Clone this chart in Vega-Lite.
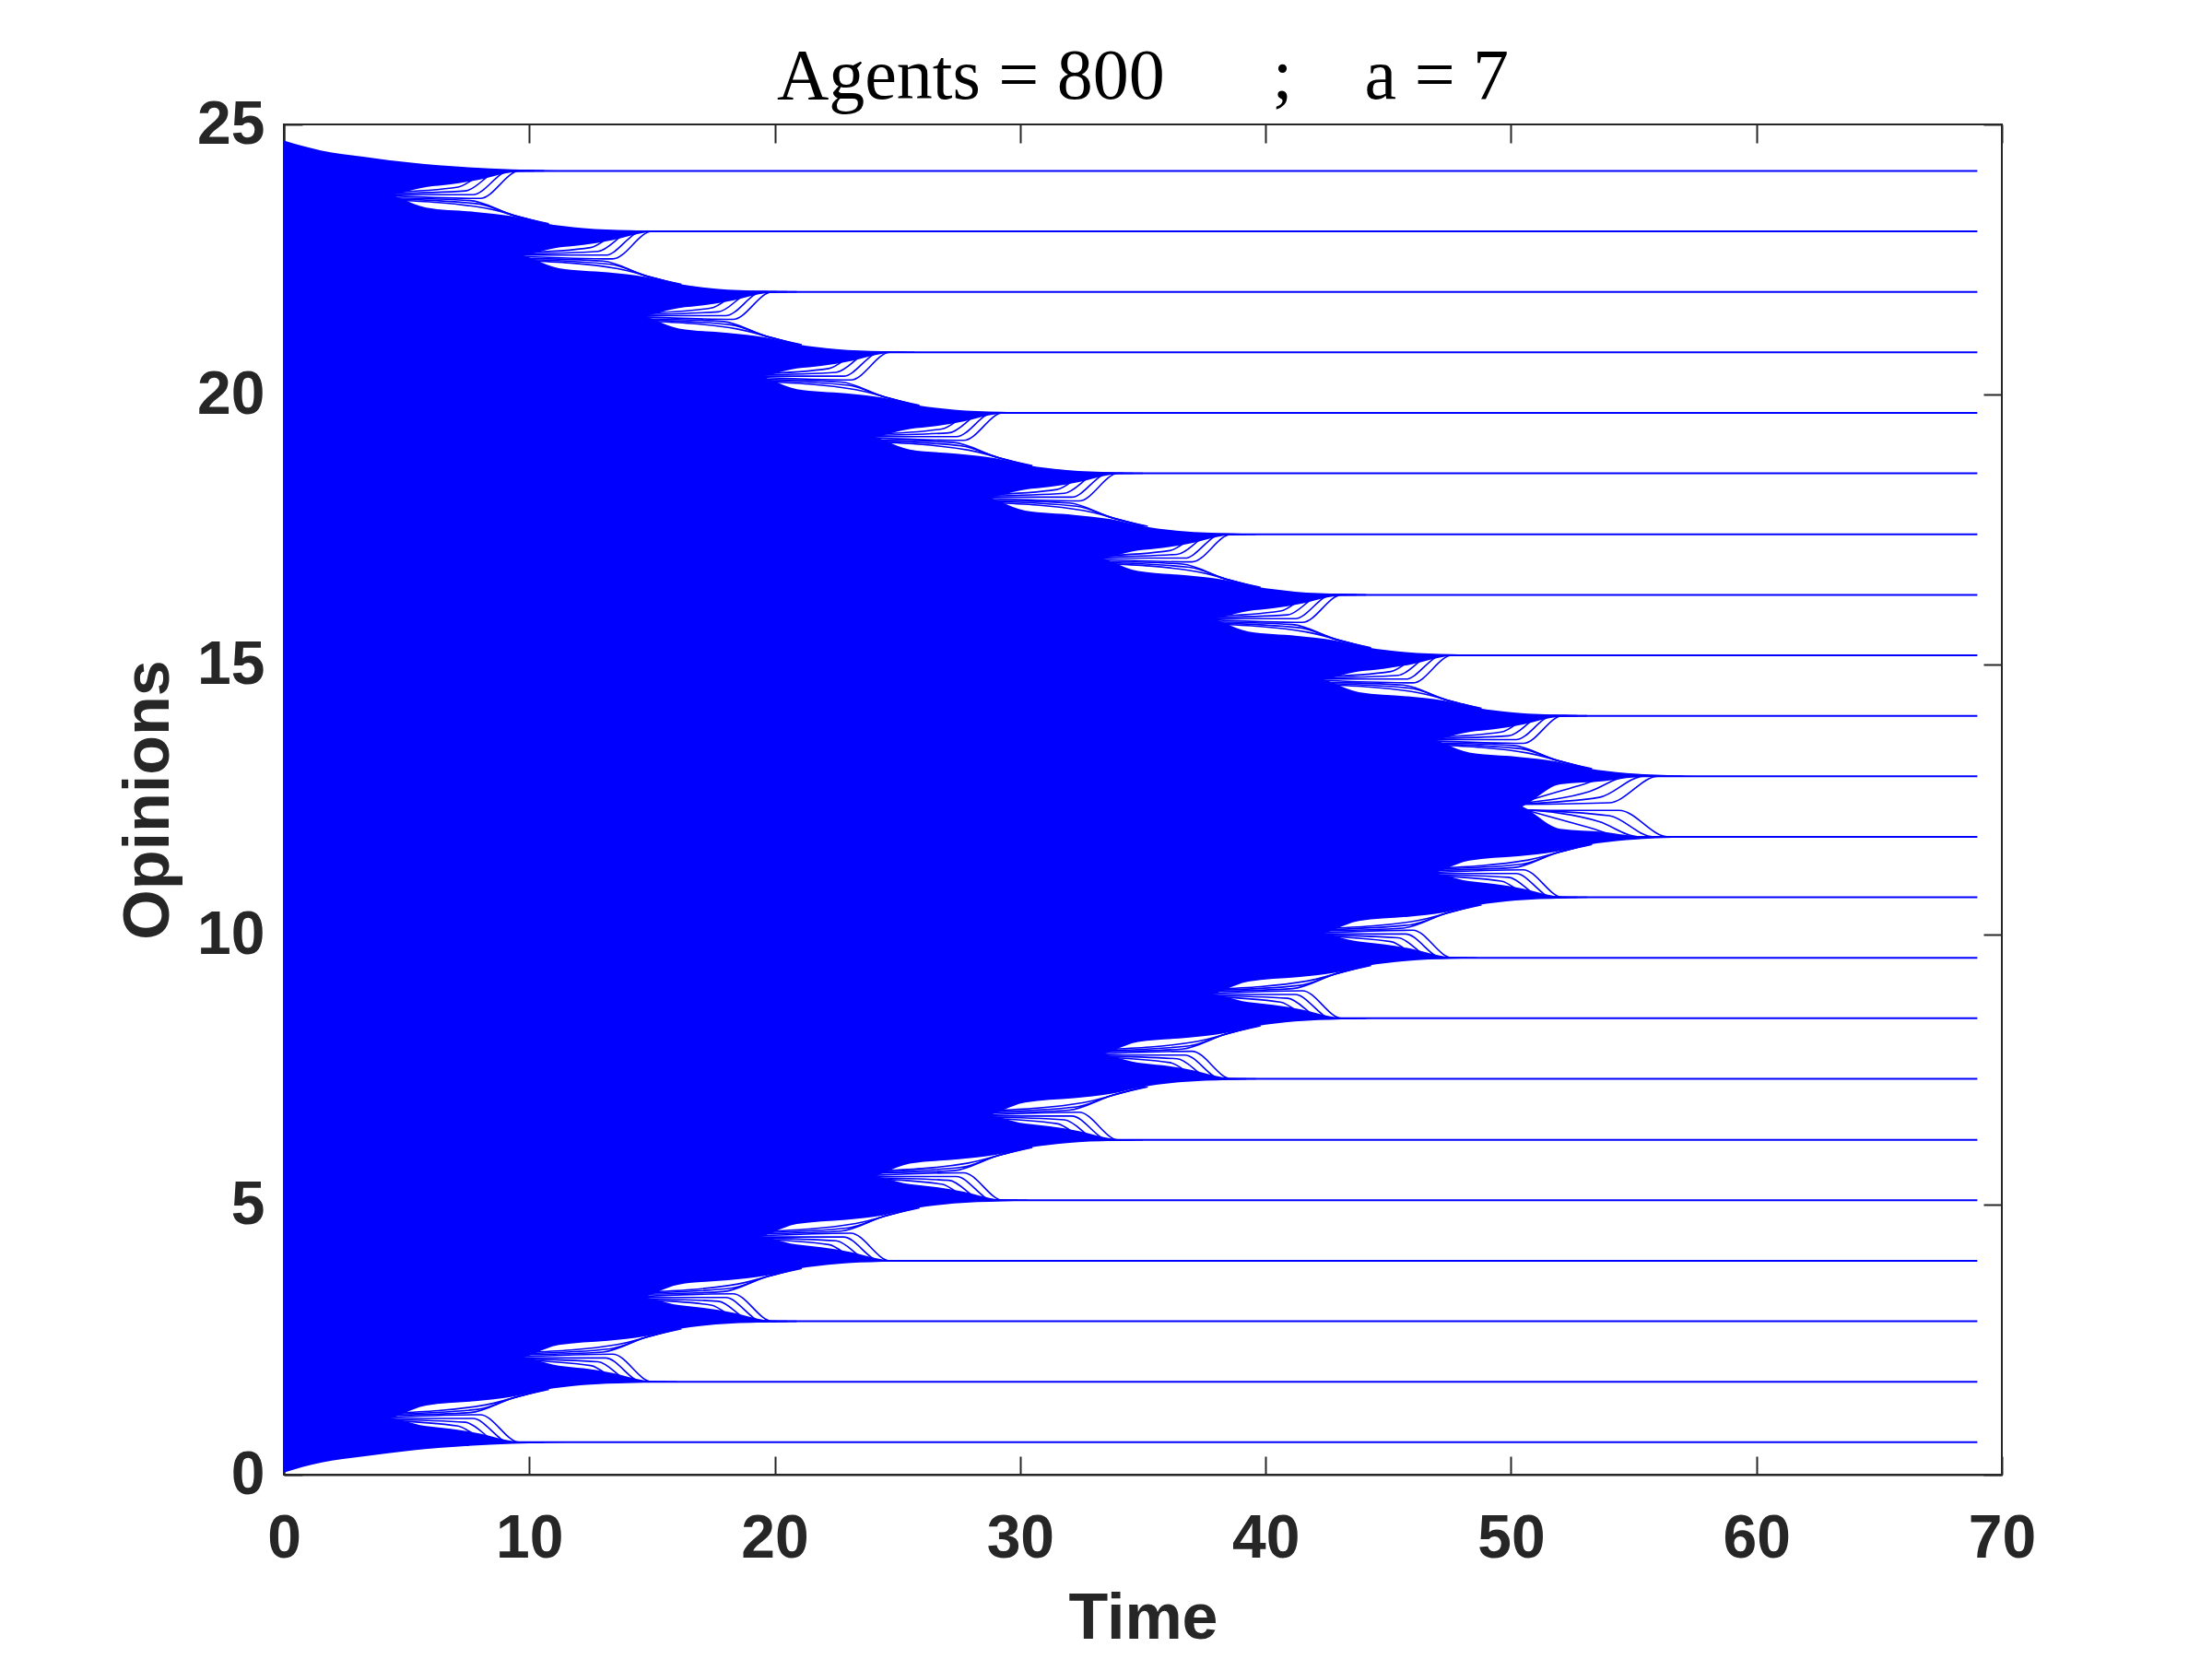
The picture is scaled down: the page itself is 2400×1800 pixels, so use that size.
{
"$schema": "https://vega.github.io/schema/vega-lite/v6.json",
"width": 1864, "height": 1465,
"autosize": {"type": "none"},
"padding": {"left": 308, "top": 135, "right": 228, "bottom": 200},
"background": "white",
"title": {"text": "Agents = 800\u2003\u2002;\u2003a = 7", "font": "Liberation Serif", "fontSize": 78, "fontWeight": "normal", "color": "black", "anchor": "middle", "offset": -21},
"config": {
  "view": {"stroke": "#262626", "strokeWidth": 2},
  "axis": {"grid": false, "domainColor": "#262626", "domainWidth": 2, "tickColor": "#262626", "tickWidth": 2, "tickSize": -20, "labelFlush": false,
    "labelFont": "Liberation Sans", "labelFontWeight": "bold", "labelFontSize": 66, "labelColor": "#262626",
    "titleFont": "Liberation Sans", "titleFontWeight": "bold", "titleFontSize": 70, "titleColor": "#262626"}
},
"datasets": {
"tongue": [
{"g":"1u","t":0,"y":24.70,"y2":24.14},{"g":"1u","t":1.5,"y":24.52,"y2":24.14},{"g":"1u","t":3.3,"y":24.40,"y2":24.14},{"g":"1u","t":5.2,"y":24.29,"y2":24.14},{"g":"1u","t":7.4,"y":24.21,"y2":24.14},{"g":"1u","t":9.3,"y":24.17,"y2":24.14},{"g":"1u","t":12,"y":24.14,"y2":24.14},
{"g":"1l","t":0,"y":24.14,"y2":23.66},{"g":"1l","t":3.8,"y":24.14,"y2":23.66},{"g":"1l","t":5.8,"y":24.14,"y2":23.84},{"g":"1l","t":6.8,"y":24.14,"y2":23.89},{"g":"1l","t":8.0,"y":24.14,"y2":23.98},{"g":"1l","t":9.0,"y":24.14,"y2":24.09},{"g":"1l","t":9.6,"y":24.14,"y2":24.14},
{"g":"2u","t":0,"y":23.74,"y2":23.02},{"g":"2u","t":3.8,"y":23.74,"y2":23.02},{"g":"2u","t":5.8,"y":23.46,"y2":23.02},{"g":"2u","t":7.8,"y":23.38,"y2":23.02},{"g":"2u","t":9.3,"y":23.30,"y2":23.02},{"g":"2u","t":10.6,"y":23.17,"y2":23.02},{"g":"2u","t":12.2,"y":23.08,"y2":23.02},{"g":"2u","t":14.1,"y":23.04,"y2":23.02},{"g":"2u","t":15.8,"y":23.02,"y2":23.02},
{"g":"2l","t":0,"y":23.02,"y2":22.54},{"g":"2l","t":9.2,"y":23.02,"y2":22.54},{"g":"2l","t":11.2,"y":23.02,"y2":22.72},{"g":"2l","t":12.2,"y":23.02,"y2":22.77},{"g":"2l","t":13.4,"y":23.02,"y2":22.86},{"g":"2l","t":14.4,"y":23.02,"y2":22.97},{"g":"2l","t":15.0,"y":23.02,"y2":23.02},
{"g":"3u","t":0,"y":22.62,"y2":21.90},{"g":"3u","t":9.2,"y":22.62,"y2":21.90},{"g":"3u","t":11.2,"y":22.34,"y2":21.90},{"g":"3u","t":13.2,"y":22.26,"y2":21.90},{"g":"3u","t":14.7,"y":22.18,"y2":21.90},{"g":"3u","t":16.0,"y":22.05,"y2":21.90},{"g":"3u","t":17.6,"y":21.96,"y2":21.90},{"g":"3u","t":19.5,"y":21.92,"y2":21.90},{"g":"3u","t":21.2,"y":21.90,"y2":21.90},
{"g":"3l","t":0,"y":21.90,"y2":21.42},{"g":"3l","t":14.1,"y":21.90,"y2":21.42},{"g":"3l","t":16.1,"y":21.90,"y2":21.60},{"g":"3l","t":17.1,"y":21.90,"y2":21.65},{"g":"3l","t":18.3,"y":21.90,"y2":21.74},{"g":"3l","t":19.3,"y":21.90,"y2":21.85},{"g":"3l","t":19.9,"y":21.90,"y2":21.90},
{"g":"4u","t":0,"y":21.50,"y2":20.78},{"g":"4u","t":14.1,"y":21.50,"y2":20.78},{"g":"4u","t":16.1,"y":21.22,"y2":20.78},{"g":"4u","t":18.1,"y":21.14,"y2":20.78},{"g":"4u","t":19.6,"y":21.06,"y2":20.78},{"g":"4u","t":20.9,"y":20.93,"y2":20.78},{"g":"4u","t":22.5,"y":20.84,"y2":20.78},{"g":"4u","t":24.4,"y":20.80,"y2":20.78},{"g":"4u","t":26.1,"y":20.78,"y2":20.78},
{"g":"4l","t":0,"y":20.78,"y2":20.30},{"g":"4l","t":18.9,"y":20.78,"y2":20.30},{"g":"4l","t":20.9,"y":20.78,"y2":20.48},{"g":"4l","t":21.9,"y":20.78,"y2":20.53},{"g":"4l","t":23.1,"y":20.78,"y2":20.62},{"g":"4l","t":24.1,"y":20.78,"y2":20.73},{"g":"4l","t":24.7,"y":20.78,"y2":20.78},
{"g":"5u","t":0,"y":20.38,"y2":19.66},{"g":"5u","t":18.9,"y":20.38,"y2":19.66},{"g":"5u","t":20.9,"y":20.10,"y2":19.66},{"g":"5u","t":22.9,"y":20.02,"y2":19.66},{"g":"5u","t":24.4,"y":19.94,"y2":19.66},{"g":"5u","t":25.7,"y":19.81,"y2":19.66},{"g":"5u","t":27.3,"y":19.72,"y2":19.66},{"g":"5u","t":29.2,"y":19.68,"y2":19.66},{"g":"5u","t":30.9,"y":19.66,"y2":19.66},
{"g":"5l","t":0,"y":19.66,"y2":19.18},{"g":"5l","t":23.5,"y":19.66,"y2":19.18},{"g":"5l","t":25.5,"y":19.66,"y2":19.36},{"g":"5l","t":26.5,"y":19.66,"y2":19.41},{"g":"5l","t":27.7,"y":19.66,"y2":19.50},{"g":"5l","t":28.7,"y":19.66,"y2":19.61},{"g":"5l","t":29.3,"y":19.66,"y2":19.66},
{"g":"6u","t":0,"y":19.26,"y2":18.54},{"g":"6u","t":23.5,"y":19.26,"y2":18.54},{"g":"6u","t":25.5,"y":18.98,"y2":18.54},{"g":"6u","t":27.5,"y":18.90,"y2":18.54},{"g":"6u","t":29.0,"y":18.82,"y2":18.54},{"g":"6u","t":30.3,"y":18.69,"y2":18.54},{"g":"6u","t":31.9,"y":18.60,"y2":18.54},{"g":"6u","t":33.8,"y":18.56,"y2":18.54},{"g":"6u","t":35.5,"y":18.54,"y2":18.54},
{"g":"6l","t":0,"y":18.54,"y2":18.06},{"g":"6l","t":28.2,"y":18.54,"y2":18.06},{"g":"6l","t":30.2,"y":18.54,"y2":18.24},{"g":"6l","t":31.2,"y":18.54,"y2":18.29},{"g":"6l","t":32.4,"y":18.54,"y2":18.38},{"g":"6l","t":33.4,"y":18.54,"y2":18.49},{"g":"6l","t":34.0,"y":18.54,"y2":18.54},
{"g":"7u","t":0,"y":18.13,"y2":17.41},{"g":"7u","t":28.2,"y":18.13,"y2":17.41},{"g":"7u","t":30.2,"y":17.85,"y2":17.41},{"g":"7u","t":32.2,"y":17.77,"y2":17.41},{"g":"7u","t":33.7,"y":17.69,"y2":17.41},{"g":"7u","t":35.0,"y":17.56,"y2":17.41},{"g":"7u","t":36.6,"y":17.47,"y2":17.41},{"g":"7u","t":38.5,"y":17.43,"y2":17.41},{"g":"7u","t":40.2,"y":17.41,"y2":17.41},
{"g":"7l","t":0,"y":17.41,"y2":16.93},{"g":"7l","t":32.8,"y":17.41,"y2":16.93},{"g":"7l","t":34.8,"y":17.41,"y2":17.11},{"g":"7l","t":35.8,"y":17.41,"y2":17.16},{"g":"7l","t":37.0,"y":17.41,"y2":17.25},{"g":"7l","t":38.0,"y":17.41,"y2":17.36},{"g":"7l","t":38.6,"y":17.41,"y2":17.41},
{"g":"8u","t":0,"y":17.01,"y2":16.29},{"g":"8u","t":32.8,"y":17.01,"y2":16.29},{"g":"8u","t":34.8,"y":16.73,"y2":16.29},{"g":"8u","t":36.8,"y":16.65,"y2":16.29},{"g":"8u","t":38.3,"y":16.57,"y2":16.29},{"g":"8u","t":39.6,"y":16.44,"y2":16.29},{"g":"8u","t":41.2,"y":16.35,"y2":16.29},{"g":"8u","t":43.1,"y":16.31,"y2":16.29},{"g":"8u","t":44.8,"y":16.29,"y2":16.29},
{"g":"8l","t":0,"y":16.29,"y2":15.81},{"g":"8l","t":37.3,"y":16.29,"y2":15.81},{"g":"8l","t":39.3,"y":16.29,"y2":15.99},{"g":"8l","t":40.3,"y":16.29,"y2":16.04},{"g":"8l","t":41.5,"y":16.29,"y2":16.13},{"g":"8l","t":42.5,"y":16.29,"y2":16.24},{"g":"8l","t":43.1,"y":16.29,"y2":16.29},
{"g":"9u","t":0,"y":15.89,"y2":15.17},{"g":"9u","t":37.3,"y":15.89,"y2":15.17},{"g":"9u","t":39.3,"y":15.61,"y2":15.17},{"g":"9u","t":41.3,"y":15.53,"y2":15.17},{"g":"9u","t":42.8,"y":15.45,"y2":15.17},{"g":"9u","t":44.1,"y":15.32,"y2":15.17},{"g":"9u","t":45.7,"y":15.23,"y2":15.17},{"g":"9u","t":47.6,"y":15.19,"y2":15.17},{"g":"9u","t":49.3,"y":15.17,"y2":15.17},
{"g":"9l","t":0,"y":15.17,"y2":14.69},{"g":"9l","t":41.8,"y":15.17,"y2":14.69},{"g":"9l","t":43.8,"y":15.17,"y2":14.87},{"g":"9l","t":44.8,"y":15.17,"y2":14.92},{"g":"9l","t":46.0,"y":15.17,"y2":15.01},{"g":"9l","t":47.0,"y":15.17,"y2":15.12},{"g":"9l","t":47.6,"y":15.17,"y2":15.17},
{"g":"10u","t":0,"y":14.77,"y2":14.05},{"g":"10u","t":41.8,"y":14.77,"y2":14.05},{"g":"10u","t":43.8,"y":14.49,"y2":14.05},{"g":"10u","t":45.8,"y":14.41,"y2":14.05},{"g":"10u","t":47.3,"y":14.33,"y2":14.05},{"g":"10u","t":48.6,"y":14.20,"y2":14.05},{"g":"10u","t":50.2,"y":14.11,"y2":14.05},{"g":"10u","t":52.1,"y":14.07,"y2":14.05},{"g":"10u","t":53.8,"y":14.05,"y2":14.05},
{"g":"10l","t":0,"y":14.05,"y2":13.57},{"g":"10l","t":46.3,"y":14.05,"y2":13.57},{"g":"10l","t":48.3,"y":14.05,"y2":13.75},{"g":"10l","t":49.3,"y":14.05,"y2":13.80},{"g":"10l","t":50.5,"y":14.05,"y2":13.89},{"g":"10l","t":51.5,"y":14.05,"y2":14.00},{"g":"10l","t":52.1,"y":14.05,"y2":14.05},
{"g":"11u","t":0,"y":13.65,"y2":12.93},{"g":"11u","t":46.3,"y":13.65,"y2":12.93},{"g":"11u","t":48.3,"y":13.37,"y2":12.93},{"g":"11u","t":50.3,"y":13.29,"y2":12.93},{"g":"11u","t":51.8,"y":13.21,"y2":12.93},{"g":"11u","t":53.1,"y":13.08,"y2":12.93},{"g":"11u","t":54.7,"y":12.99,"y2":12.93},{"g":"11u","t":56.6,"y":12.95,"y2":12.93},{"g":"11u","t":58.3,"y":12.93,"y2":12.93},
{"g":"11l","t":0,"y":12.93,"y2":12.33},{"g":"11l","t":50.1,"y":12.93,"y2":12.33},{"g":"11l","t":52.0,"y":12.93,"y2":12.78},{"g":"11l","t":53.8,"y":12.93,"y2":12.84},{"g":"11l","t":55.0,"y":12.93,"y2":12.91},{"g":"11l","t":55.8,"y":12.93,"y2":12.93},
{"g":"12u","t":0,"y":12.41,"y2":11.81},{"g":"12u","t":50.1,"y":12.41,"y2":11.81},{"g":"12u","t":52.0,"y":11.96,"y2":11.81},{"g":"12u","t":53.8,"y":11.90,"y2":11.81},{"g":"12u","t":55.0,"y":11.83,"y2":11.81},{"g":"12u","t":55.8,"y":11.81,"y2":11.81},
{"g":"12l","t":0,"y":11.81,"y2":11.09},{"g":"12l","t":46.3,"y":11.81,"y2":11.09},{"g":"12l","t":48.3,"y":11.81,"y2":11.37},{"g":"12l","t":50.3,"y":11.81,"y2":11.45},{"g":"12l","t":51.8,"y":11.81,"y2":11.53},{"g":"12l","t":53.1,"y":11.81,"y2":11.66},{"g":"12l","t":54.7,"y":11.81,"y2":11.75},{"g":"12l","t":56.6,"y":11.81,"y2":11.79},{"g":"12l","t":58.3,"y":11.81,"y2":11.81},
{"g":"13u","t":0,"y":11.17,"y2":10.69},{"g":"13u","t":46.3,"y":11.17,"y2":10.69},{"g":"13u","t":48.3,"y":10.99,"y2":10.69},{"g":"13u","t":49.3,"y":10.94,"y2":10.69},{"g":"13u","t":50.5,"y":10.85,"y2":10.69},{"g":"13u","t":51.5,"y":10.74,"y2":10.69},{"g":"13u","t":52.1,"y":10.69,"y2":10.69},
{"g":"13l","t":0,"y":10.69,"y2":9.97},{"g":"13l","t":41.8,"y":10.69,"y2":9.97},{"g":"13l","t":43.8,"y":10.69,"y2":10.25},{"g":"13l","t":45.8,"y":10.69,"y2":10.33},{"g":"13l","t":47.3,"y":10.69,"y2":10.41},{"g":"13l","t":48.6,"y":10.69,"y2":10.54},{"g":"13l","t":50.2,"y":10.69,"y2":10.63},{"g":"13l","t":52.1,"y":10.69,"y2":10.67},{"g":"13l","t":53.8,"y":10.69,"y2":10.69},
{"g":"14u","t":0,"y":10.05,"y2":9.57},{"g":"14u","t":41.8,"y":10.05,"y2":9.57},{"g":"14u","t":43.8,"y":9.87,"y2":9.57},{"g":"14u","t":44.8,"y":9.82,"y2":9.57},{"g":"14u","t":46.0,"y":9.73,"y2":9.57},{"g":"14u","t":47.0,"y":9.62,"y2":9.57},{"g":"14u","t":47.6,"y":9.57,"y2":9.57},
{"g":"14l","t":0,"y":9.57,"y2":8.85},{"g":"14l","t":37.3,"y":9.57,"y2":8.85},{"g":"14l","t":39.3,"y":9.57,"y2":9.13},{"g":"14l","t":41.3,"y":9.57,"y2":9.21},{"g":"14l","t":42.8,"y":9.57,"y2":9.29},{"g":"14l","t":44.1,"y":9.57,"y2":9.42},{"g":"14l","t":45.7,"y":9.57,"y2":9.51},{"g":"14l","t":47.6,"y":9.57,"y2":9.55},{"g":"14l","t":49.3,"y":9.57,"y2":9.57},
{"g":"15u","t":0,"y":8.93,"y2":8.45},{"g":"15u","t":37.3,"y":8.93,"y2":8.45},{"g":"15u","t":39.3,"y":8.75,"y2":8.45},{"g":"15u","t":40.3,"y":8.70,"y2":8.45},{"g":"15u","t":41.5,"y":8.61,"y2":8.45},{"g":"15u","t":42.5,"y":8.50,"y2":8.45},{"g":"15u","t":43.1,"y":8.45,"y2":8.45},
{"g":"15l","t":0,"y":8.45,"y2":7.73},{"g":"15l","t":32.8,"y":8.45,"y2":7.73},{"g":"15l","t":34.8,"y":8.45,"y2":8.01},{"g":"15l","t":36.8,"y":8.45,"y2":8.09},{"g":"15l","t":38.3,"y":8.45,"y2":8.17},{"g":"15l","t":39.6,"y":8.45,"y2":8.30},{"g":"15l","t":41.2,"y":8.45,"y2":8.39},{"g":"15l","t":43.1,"y":8.45,"y2":8.43},{"g":"15l","t":44.8,"y":8.45,"y2":8.45},
{"g":"16u","t":0,"y":7.81,"y2":7.33},{"g":"16u","t":32.8,"y":7.81,"y2":7.33},{"g":"16u","t":34.8,"y":7.63,"y2":7.33},{"g":"16u","t":35.8,"y":7.58,"y2":7.33},{"g":"16u","t":37.0,"y":7.49,"y2":7.33},{"g":"16u","t":38.0,"y":7.38,"y2":7.33},{"g":"16u","t":38.6,"y":7.33,"y2":7.33},
{"g":"16l","t":0,"y":7.33,"y2":6.61},{"g":"16l","t":28.2,"y":7.33,"y2":6.61},{"g":"16l","t":30.2,"y":7.33,"y2":6.89},{"g":"16l","t":32.2,"y":7.33,"y2":6.97},{"g":"16l","t":33.7,"y":7.33,"y2":7.05},{"g":"16l","t":35.0,"y":7.33,"y2":7.18},{"g":"16l","t":36.6,"y":7.33,"y2":7.27},{"g":"16l","t":38.5,"y":7.33,"y2":7.31},{"g":"16l","t":40.2,"y":7.33,"y2":7.33},
{"g":"17u","t":0,"y":6.68,"y2":6.20},{"g":"17u","t":28.2,"y":6.68,"y2":6.20},{"g":"17u","t":30.2,"y":6.50,"y2":6.20},{"g":"17u","t":31.2,"y":6.45,"y2":6.20},{"g":"17u","t":32.4,"y":6.36,"y2":6.20},{"g":"17u","t":33.4,"y":6.25,"y2":6.20},{"g":"17u","t":34.0,"y":6.20,"y2":6.20},
{"g":"17l","t":0,"y":6.20,"y2":5.48},{"g":"17l","t":23.5,"y":6.20,"y2":5.48},{"g":"17l","t":25.5,"y":6.20,"y2":5.76},{"g":"17l","t":27.5,"y":6.20,"y2":5.84},{"g":"17l","t":29.0,"y":6.20,"y2":5.92},{"g":"17l","t":30.3,"y":6.20,"y2":6.05},{"g":"17l","t":31.9,"y":6.20,"y2":6.14},{"g":"17l","t":33.8,"y":6.20,"y2":6.18},{"g":"17l","t":35.5,"y":6.20,"y2":6.20},
{"g":"18u","t":0,"y":5.56,"y2":5.08},{"g":"18u","t":23.5,"y":5.56,"y2":5.08},{"g":"18u","t":25.5,"y":5.38,"y2":5.08},{"g":"18u","t":26.5,"y":5.33,"y2":5.08},{"g":"18u","t":27.7,"y":5.24,"y2":5.08},{"g":"18u","t":28.7,"y":5.13,"y2":5.08},{"g":"18u","t":29.3,"y":5.08,"y2":5.08},
{"g":"18l","t":0,"y":5.08,"y2":4.36},{"g":"18l","t":18.9,"y":5.08,"y2":4.36},{"g":"18l","t":20.9,"y":5.08,"y2":4.64},{"g":"18l","t":22.9,"y":5.08,"y2":4.72},{"g":"18l","t":24.4,"y":5.08,"y2":4.80},{"g":"18l","t":25.7,"y":5.08,"y2":4.93},{"g":"18l","t":27.3,"y":5.08,"y2":5.02},{"g":"18l","t":29.2,"y":5.08,"y2":5.06},{"g":"18l","t":30.9,"y":5.08,"y2":5.08},
{"g":"19u","t":0,"y":4.44,"y2":3.96},{"g":"19u","t":18.9,"y":4.44,"y2":3.96},{"g":"19u","t":20.9,"y":4.26,"y2":3.96},{"g":"19u","t":21.9,"y":4.21,"y2":3.96},{"g":"19u","t":23.1,"y":4.12,"y2":3.96},{"g":"19u","t":24.1,"y":4.01,"y2":3.96},{"g":"19u","t":24.7,"y":3.96,"y2":3.96},
{"g":"19l","t":0,"y":3.96,"y2":3.24},{"g":"19l","t":14.1,"y":3.96,"y2":3.24},{"g":"19l","t":16.1,"y":3.96,"y2":3.52},{"g":"19l","t":18.1,"y":3.96,"y2":3.60},{"g":"19l","t":19.6,"y":3.96,"y2":3.68},{"g":"19l","t":20.9,"y":3.96,"y2":3.81},{"g":"19l","t":22.5,"y":3.96,"y2":3.90},{"g":"19l","t":24.4,"y":3.96,"y2":3.94},{"g":"19l","t":26.1,"y":3.96,"y2":3.96},
{"g":"20u","t":0,"y":3.32,"y2":2.84},{"g":"20u","t":14.1,"y":3.32,"y2":2.84},{"g":"20u","t":16.1,"y":3.14,"y2":2.84},{"g":"20u","t":17.1,"y":3.09,"y2":2.84},{"g":"20u","t":18.3,"y":3.00,"y2":2.84},{"g":"20u","t":19.3,"y":2.89,"y2":2.84},{"g":"20u","t":19.9,"y":2.84,"y2":2.84},
{"g":"20l","t":0,"y":2.84,"y2":2.12},{"g":"20l","t":9.2,"y":2.84,"y2":2.12},{"g":"20l","t":11.2,"y":2.84,"y2":2.40},{"g":"20l","t":13.2,"y":2.84,"y2":2.48},{"g":"20l","t":14.7,"y":2.84,"y2":2.56},{"g":"20l","t":16.0,"y":2.84,"y2":2.69},{"g":"20l","t":17.6,"y":2.84,"y2":2.78},{"g":"20l","t":19.5,"y":2.84,"y2":2.82},{"g":"20l","t":21.2,"y":2.84,"y2":2.84},
{"g":"21u","t":0,"y":2.20,"y2":1.72},{"g":"21u","t":9.2,"y":2.20,"y2":1.72},{"g":"21u","t":11.2,"y":2.02,"y2":1.72},{"g":"21u","t":12.2,"y":1.97,"y2":1.72},{"g":"21u","t":13.4,"y":1.88,"y2":1.72},{"g":"21u","t":14.4,"y":1.77,"y2":1.72},{"g":"21u","t":15.0,"y":1.72,"y2":1.72},
{"g":"21l","t":0,"y":1.72,"y2":1.00},{"g":"21l","t":3.8,"y":1.72,"y2":1.00},{"g":"21l","t":5.8,"y":1.72,"y2":1.28},{"g":"21l","t":7.8,"y":1.72,"y2":1.36},{"g":"21l","t":9.3,"y":1.72,"y2":1.44},{"g":"21l","t":10.6,"y":1.72,"y2":1.57},{"g":"21l","t":12.2,"y":1.72,"y2":1.66},{"g":"21l","t":14.1,"y":1.72,"y2":1.70},{"g":"21l","t":15.8,"y":1.72,"y2":1.72},
{"g":"22u","t":0,"y":1.08,"y2":0.60},{"g":"22u","t":3.8,"y":1.08,"y2":0.60},{"g":"22u","t":5.8,"y":0.90,"y2":0.60},{"g":"22u","t":6.8,"y":0.85,"y2":0.60},{"g":"22u","t":8.0,"y":0.76,"y2":0.60},{"g":"22u","t":9.0,"y":0.65,"y2":0.60},{"g":"22u","t":9.6,"y":0.60,"y2":0.60},
{"g":"22l","t":0,"y":0.60,"y2":0.04},{"g":"22l","t":1.5,"y":0.60,"y2":0.22},{"g":"22l","t":3.3,"y":0.60,"y2":0.34},{"g":"22l","t":5.2,"y":0.60,"y2":0.45},{"g":"22l","t":7.4,"y":0.60,"y2":0.53},{"g":"22l","t":9.3,"y":0.60,"y2":0.57},{"g":"22l","t":12,"y":0.60,"y2":0.60}
],
"fan": [
{"g":"1a","t":4.2,"v":23.74},{"g":"1a","t":7.1,"v":23.84},{"g":"1a","t":8.4,"v":24.14},{"g":"1a","t":9.4,"v":24.14},
{"g":"1b","t":4.2,"v":23.72},{"g":"1b","t":7.4,"v":23.77},{"g":"1b","t":8.8,"v":24.14},{"g":"1b","t":9.8,"v":24.14},
{"g":"1c","t":4.2,"v":23.70},{"g":"1c","t":7.7,"v":23.70},{"g":"1c","t":9.2,"v":24.14},{"g":"1c","t":10.2,"v":24.14},
{"g":"1d","t":4.2,"v":23.68},{"g":"1d","t":8.0,"v":23.63},{"g":"1d","t":9.6,"v":24.14},{"g":"1d","t":10.6,"v":24.14},
{"g":"1e","t":4.4,"v":23.64},{"g":"1e","t":7.6,"v":23.59},{"g":"1e","t":9.4,"v":23.31},{"g":"1e","t":10.8,"v":23.16},
{"g":"1f","t":4.4,"v":23.62},{"g":"1f","t":7.9,"v":23.53},{"g":"1f","t":9.4,"v":23.31},{"g":"1f","t":10.7,"v":23.16},
{"g":"1g","t":4.4,"v":23.60},{"g":"1g","t":8.2,"v":23.45},{"g":"1g","t":9.5,"v":23.30},{"g":"1g","t":10.6,"v":23.16},
{"g":"2a","t":9.6,"v":22.62},{"g":"2a","t":12.5,"v":22.72},{"g":"2a","t":13.8,"v":23.02},{"g":"2a","t":14.8,"v":23.02},
{"g":"2b","t":9.6,"v":22.60},{"g":"2b","t":12.8,"v":22.65},{"g":"2b","t":14.2,"v":23.02},{"g":"2b","t":15.2,"v":23.02},
{"g":"2c","t":9.6,"v":22.58},{"g":"2c","t":13.1,"v":22.58},{"g":"2c","t":14.6,"v":23.02},{"g":"2c","t":15.6,"v":23.02},
{"g":"2d","t":9.6,"v":22.56},{"g":"2d","t":13.4,"v":22.51},{"g":"2d","t":15.0,"v":23.02},{"g":"2d","t":16.0,"v":23.02},
{"g":"2e","t":9.8,"v":22.52},{"g":"2e","t":13.0,"v":22.47},{"g":"2e","t":14.8,"v":22.19},{"g":"2e","t":16.2,"v":22.04},
{"g":"2f","t":9.8,"v":22.50},{"g":"2f","t":13.3,"v":22.41},{"g":"2f","t":14.8,"v":22.19},{"g":"2f","t":16.1,"v":22.04},
{"g":"2g","t":9.8,"v":22.48},{"g":"2g","t":13.6,"v":22.33},{"g":"2g","t":14.9,"v":22.18},{"g":"2g","t":16.0,"v":22.04},
{"g":"3a","t":14.5,"v":21.50},{"g":"3a","t":17.4,"v":21.60},{"g":"3a","t":18.7,"v":21.90},{"g":"3a","t":19.7,"v":21.90},
{"g":"3b","t":14.5,"v":21.48},{"g":"3b","t":17.7,"v":21.53},{"g":"3b","t":19.1,"v":21.90},{"g":"3b","t":20.1,"v":21.90},
{"g":"3c","t":14.5,"v":21.46},{"g":"3c","t":18.0,"v":21.46},{"g":"3c","t":19.5,"v":21.90},{"g":"3c","t":20.5,"v":21.90},
{"g":"3d","t":14.5,"v":21.44},{"g":"3d","t":18.3,"v":21.39},{"g":"3d","t":19.9,"v":21.90},{"g":"3d","t":20.9,"v":21.90},
{"g":"3e","t":14.7,"v":21.40},{"g":"3e","t":17.9,"v":21.35},{"g":"3e","t":19.7,"v":21.07},{"g":"3e","t":21.1,"v":20.92},
{"g":"3f","t":14.7,"v":21.38},{"g":"3f","t":18.2,"v":21.29},{"g":"3f","t":19.7,"v":21.07},{"g":"3f","t":21.0,"v":20.92},
{"g":"3g","t":14.7,"v":21.36},{"g":"3g","t":18.5,"v":21.21},{"g":"3g","t":19.8,"v":21.06},{"g":"3g","t":20.9,"v":20.92},
{"g":"4a","t":19.3,"v":20.38},{"g":"4a","t":22.2,"v":20.48},{"g":"4a","t":23.5,"v":20.78},{"g":"4a","t":24.5,"v":20.78},
{"g":"4b","t":19.3,"v":20.36},{"g":"4b","t":22.5,"v":20.41},{"g":"4b","t":23.9,"v":20.78},{"g":"4b","t":24.9,"v":20.78},
{"g":"4c","t":19.3,"v":20.34},{"g":"4c","t":22.8,"v":20.34},{"g":"4c","t":24.3,"v":20.78},{"g":"4c","t":25.3,"v":20.78},
{"g":"4d","t":19.3,"v":20.32},{"g":"4d","t":23.1,"v":20.27},{"g":"4d","t":24.7,"v":20.78},{"g":"4d","t":25.7,"v":20.78},
{"g":"4e","t":19.5,"v":20.28},{"g":"4e","t":22.7,"v":20.23},{"g":"4e","t":24.5,"v":19.95},{"g":"4e","t":25.9,"v":19.80},
{"g":"4f","t":19.5,"v":20.26},{"g":"4f","t":23.0,"v":20.17},{"g":"4f","t":24.5,"v":19.95},{"g":"4f","t":25.8,"v":19.80},
{"g":"4g","t":19.5,"v":20.24},{"g":"4g","t":23.3,"v":20.09},{"g":"4g","t":24.6,"v":19.94},{"g":"4g","t":25.7,"v":19.80},
{"g":"5a","t":23.9,"v":19.26},{"g":"5a","t":26.8,"v":19.36},{"g":"5a","t":28.1,"v":19.66},{"g":"5a","t":29.1,"v":19.66},
{"g":"5b","t":23.9,"v":19.24},{"g":"5b","t":27.1,"v":19.29},{"g":"5b","t":28.5,"v":19.66},{"g":"5b","t":29.5,"v":19.66},
{"g":"5c","t":23.9,"v":19.22},{"g":"5c","t":27.4,"v":19.22},{"g":"5c","t":28.9,"v":19.66},{"g":"5c","t":29.9,"v":19.66},
{"g":"5d","t":23.9,"v":19.20},{"g":"5d","t":27.7,"v":19.15},{"g":"5d","t":29.3,"v":19.66},{"g":"5d","t":30.3,"v":19.66},
{"g":"5e","t":24.1,"v":19.16},{"g":"5e","t":27.3,"v":19.11},{"g":"5e","t":29.1,"v":18.83},{"g":"5e","t":30.5,"v":18.68},
{"g":"5f","t":24.1,"v":19.14},{"g":"5f","t":27.6,"v":19.05},{"g":"5f","t":29.1,"v":18.83},{"g":"5f","t":30.4,"v":18.68},
{"g":"5g","t":24.1,"v":19.12},{"g":"5g","t":27.9,"v":18.97},{"g":"5g","t":29.2,"v":18.82},{"g":"5g","t":30.3,"v":18.68},
{"g":"6a","t":28.6,"v":18.14},{"g":"6a","t":31.5,"v":18.24},{"g":"6a","t":32.8,"v":18.54},{"g":"6a","t":33.8,"v":18.54},
{"g":"6b","t":28.6,"v":18.12},{"g":"6b","t":31.8,"v":18.17},{"g":"6b","t":33.2,"v":18.54},{"g":"6b","t":34.2,"v":18.54},
{"g":"6c","t":28.6,"v":18.10},{"g":"6c","t":32.1,"v":18.10},{"g":"6c","t":33.6,"v":18.54},{"g":"6c","t":34.6,"v":18.54},
{"g":"6d","t":28.6,"v":18.08},{"g":"6d","t":32.4,"v":18.03},{"g":"6d","t":34.0,"v":18.54},{"g":"6d","t":35.0,"v":18.54},
{"g":"6e","t":28.8,"v":18.04},{"g":"6e","t":32.0,"v":17.99},{"g":"6e","t":33.8,"v":17.71},{"g":"6e","t":35.2,"v":17.56},
{"g":"6f","t":28.8,"v":18.02},{"g":"6f","t":32.3,"v":17.93},{"g":"6f","t":33.8,"v":17.71},{"g":"6f","t":35.1,"v":17.56},
{"g":"6g","t":28.8,"v":18.00},{"g":"6g","t":32.6,"v":17.85},{"g":"6g","t":33.9,"v":17.70},{"g":"6g","t":35.0,"v":17.56},
{"g":"7a","t":33.2,"v":17.01},{"g":"7a","t":36.1,"v":17.11},{"g":"7a","t":37.4,"v":17.41},{"g":"7a","t":38.4,"v":17.41},
{"g":"7b","t":33.2,"v":16.99},{"g":"7b","t":36.4,"v":17.04},{"g":"7b","t":37.8,"v":17.41},{"g":"7b","t":38.8,"v":17.41},
{"g":"7c","t":33.2,"v":16.97},{"g":"7c","t":36.7,"v":16.97},{"g":"7c","t":38.2,"v":17.41},{"g":"7c","t":39.2,"v":17.41},
{"g":"7d","t":33.2,"v":16.95},{"g":"7d","t":37.0,"v":16.90},{"g":"7d","t":38.6,"v":17.41},{"g":"7d","t":39.6,"v":17.41},
{"g":"7e","t":33.4,"v":16.91},{"g":"7e","t":36.6,"v":16.86},{"g":"7e","t":38.4,"v":16.58},{"g":"7e","t":39.8,"v":16.43},
{"g":"7f","t":33.4,"v":16.89},{"g":"7f","t":36.9,"v":16.80},{"g":"7f","t":38.4,"v":16.58},{"g":"7f","t":39.7,"v":16.43},
{"g":"7g","t":33.4,"v":16.87},{"g":"7g","t":37.2,"v":16.72},{"g":"7g","t":38.5,"v":16.57},{"g":"7g","t":39.6,"v":16.43},
{"g":"8a","t":37.7,"v":15.89},{"g":"8a","t":40.6,"v":15.99},{"g":"8a","t":41.9,"v":16.29},{"g":"8a","t":42.9,"v":16.29},
{"g":"8b","t":37.7,"v":15.87},{"g":"8b","t":40.9,"v":15.92},{"g":"8b","t":42.3,"v":16.29},{"g":"8b","t":43.3,"v":16.29},
{"g":"8c","t":37.7,"v":15.85},{"g":"8c","t":41.2,"v":15.85},{"g":"8c","t":42.7,"v":16.29},{"g":"8c","t":43.7,"v":16.29},
{"g":"8d","t":37.7,"v":15.83},{"g":"8d","t":41.5,"v":15.78},{"g":"8d","t":43.1,"v":16.29},{"g":"8d","t":44.1,"v":16.29},
{"g":"8e","t":37.9,"v":15.79},{"g":"8e","t":41.1,"v":15.74},{"g":"8e","t":42.9,"v":15.46},{"g":"8e","t":44.3,"v":15.31},
{"g":"8f","t":37.9,"v":15.77},{"g":"8f","t":41.4,"v":15.68},{"g":"8f","t":42.9,"v":15.46},{"g":"8f","t":44.2,"v":15.31},
{"g":"8g","t":37.9,"v":15.75},{"g":"8g","t":41.7,"v":15.60},{"g":"8g","t":43.0,"v":15.45},{"g":"8g","t":44.1,"v":15.31},
{"g":"9a","t":42.2,"v":14.77},{"g":"9a","t":45.1,"v":14.87},{"g":"9a","t":46.4,"v":15.17},{"g":"9a","t":47.4,"v":15.17},
{"g":"9b","t":42.2,"v":14.75},{"g":"9b","t":45.4,"v":14.80},{"g":"9b","t":46.8,"v":15.17},{"g":"9b","t":47.8,"v":15.17},
{"g":"9c","t":42.2,"v":14.73},{"g":"9c","t":45.7,"v":14.73},{"g":"9c","t":47.2,"v":15.17},{"g":"9c","t":48.2,"v":15.17},
{"g":"9d","t":42.2,"v":14.71},{"g":"9d","t":46.0,"v":14.66},{"g":"9d","t":47.6,"v":15.17},{"g":"9d","t":48.6,"v":15.17},
{"g":"9e","t":42.4,"v":14.67},{"g":"9e","t":45.6,"v":14.62},{"g":"9e","t":47.4,"v":14.34},{"g":"9e","t":48.8,"v":14.19},
{"g":"9f","t":42.4,"v":14.65},{"g":"9f","t":45.9,"v":14.56},{"g":"9f","t":47.4,"v":14.34},{"g":"9f","t":48.7,"v":14.19},
{"g":"9g","t":42.4,"v":14.63},{"g":"9g","t":46.2,"v":14.48},{"g":"9g","t":47.5,"v":14.33},{"g":"9g","t":48.6,"v":14.19},
{"g":"10a","t":46.7,"v":13.65},{"g":"10a","t":49.6,"v":13.75},{"g":"10a","t":50.9,"v":14.05},{"g":"10a","t":51.9,"v":14.05},
{"g":"10b","t":46.7,"v":13.63},{"g":"10b","t":49.9,"v":13.68},{"g":"10b","t":51.3,"v":14.05},{"g":"10b","t":52.3,"v":14.05},
{"g":"10c","t":46.7,"v":13.61},{"g":"10c","t":50.2,"v":13.61},{"g":"10c","t":51.7,"v":14.05},{"g":"10c","t":52.7,"v":14.05},
{"g":"10d","t":46.7,"v":13.59},{"g":"10d","t":50.5,"v":13.54},{"g":"10d","t":52.1,"v":14.05},{"g":"10d","t":53.1,"v":14.05},
{"g":"10e","t":46.9,"v":13.55},{"g":"10e","t":50.1,"v":13.50},{"g":"10e","t":51.9,"v":13.22},{"g":"10e","t":53.3,"v":13.07},
{"g":"10f","t":46.9,"v":13.53},{"g":"10f","t":50.4,"v":13.44},{"g":"10f","t":51.9,"v":13.22},{"g":"10f","t":53.2,"v":13.07},
{"g":"10g","t":46.9,"v":13.51},{"g":"10g","t":50.7,"v":13.36},{"g":"10g","t":52.0,"v":13.21},{"g":"10g","t":53.1,"v":13.07},
{"g":"11a","t":50.4,"v":12.44},{"g":"11a","t":52.8,"v":12.76},{"g":"11a","t":54.2,"v":12.93},{"g":"11a","t":55.2,"v":12.93},
{"g":"11b","t":50.4,"v":12.43},{"g":"11b","t":53.2,"v":12.65},{"g":"11b","t":54.8,"v":12.93},{"g":"11b","t":55.8,"v":12.93},
{"g":"11c","t":50.4,"v":12.42},{"g":"11c","t":53.6,"v":12.54},{"g":"11c","t":55.4,"v":12.93},{"g":"11c","t":56.4,"v":12.93},
{"g":"11d","t":50.4,"v":12.41},{"g":"11d","t":54.0,"v":12.44},{"g":"11d","t":56.0,"v":12.93},{"g":"11d","t":57.0,"v":12.93},
{"g":"11e","t":50.4,"v":12.33},{"g":"11e","t":53.2,"v":11.98},{"g":"11e","t":54.6,"v":11.81},{"g":"11e","t":55.6,"v":11.81},
{"g":"11f","t":50.4,"v":12.32},{"g":"11f","t":53.6,"v":12.09},{"g":"11f","t":55.2,"v":11.81},{"g":"11f","t":56.2,"v":11.81},
{"g":"11g","t":50.4,"v":12.31},{"g":"11g","t":54.0,"v":12.20},{"g":"11g","t":55.8,"v":11.81},{"g":"11g","t":56.8,"v":11.81},
{"g":"11h","t":50.4,"v":12.30},{"g":"11h","t":54.4,"v":12.30},{"g":"11h","t":56.4,"v":11.81},{"g":"11h","t":57.4,"v":11.81},
{"g":"12a","t":46.7,"v":11.09},{"g":"12a","t":49.6,"v":10.99},{"g":"12a","t":50.9,"v":10.69},{"g":"12a","t":51.9,"v":10.69},
{"g":"12b","t":46.7,"v":11.11},{"g":"12b","t":49.9,"v":11.06},{"g":"12b","t":51.3,"v":10.69},{"g":"12b","t":52.3,"v":10.69},
{"g":"12c","t":46.7,"v":11.13},{"g":"12c","t":50.2,"v":11.13},{"g":"12c","t":51.7,"v":10.69},{"g":"12c","t":52.7,"v":10.69},
{"g":"12d","t":46.7,"v":11.15},{"g":"12d","t":50.5,"v":11.20},{"g":"12d","t":52.1,"v":10.69},{"g":"12d","t":53.1,"v":10.69},
{"g":"12e","t":46.9,"v":11.19},{"g":"12e","t":50.1,"v":11.24},{"g":"12e","t":51.9,"v":11.52},{"g":"12e","t":53.3,"v":11.67},
{"g":"12f","t":46.9,"v":11.21},{"g":"12f","t":50.4,"v":11.30},{"g":"12f","t":51.9,"v":11.52},{"g":"12f","t":53.2,"v":11.67},
{"g":"12g","t":46.9,"v":11.23},{"g":"12g","t":50.7,"v":11.38},{"g":"12g","t":52.0,"v":11.53},{"g":"12g","t":53.1,"v":11.67},
{"g":"13a","t":42.2,"v":9.97},{"g":"13a","t":45.1,"v":9.87},{"g":"13a","t":46.4,"v":9.57},{"g":"13a","t":47.4,"v":9.57},
{"g":"13b","t":42.2,"v":9.99},{"g":"13b","t":45.4,"v":9.94},{"g":"13b","t":46.8,"v":9.57},{"g":"13b","t":47.8,"v":9.57},
{"g":"13c","t":42.2,"v":10.01},{"g":"13c","t":45.7,"v":10.01},{"g":"13c","t":47.2,"v":9.57},{"g":"13c","t":48.2,"v":9.57},
{"g":"13d","t":42.2,"v":10.03},{"g":"13d","t":46.0,"v":10.08},{"g":"13d","t":47.6,"v":9.57},{"g":"13d","t":48.6,"v":9.57},
{"g":"13e","t":42.4,"v":10.07},{"g":"13e","t":45.6,"v":10.12},{"g":"13e","t":47.4,"v":10.40},{"g":"13e","t":48.8,"v":10.55},
{"g":"13f","t":42.4,"v":10.09},{"g":"13f","t":45.9,"v":10.18},{"g":"13f","t":47.4,"v":10.40},{"g":"13f","t":48.7,"v":10.55},
{"g":"13g","t":42.4,"v":10.11},{"g":"13g","t":46.2,"v":10.26},{"g":"13g","t":47.5,"v":10.41},{"g":"13g","t":48.6,"v":10.55},
{"g":"14a","t":37.7,"v":8.85},{"g":"14a","t":40.6,"v":8.75},{"g":"14a","t":41.9,"v":8.45},{"g":"14a","t":42.9,"v":8.45},
{"g":"14b","t":37.7,"v":8.87},{"g":"14b","t":40.9,"v":8.82},{"g":"14b","t":42.3,"v":8.45},{"g":"14b","t":43.3,"v":8.45},
{"g":"14c","t":37.7,"v":8.89},{"g":"14c","t":41.2,"v":8.89},{"g":"14c","t":42.7,"v":8.45},{"g":"14c","t":43.7,"v":8.45},
{"g":"14d","t":37.7,"v":8.91},{"g":"14d","t":41.5,"v":8.96},{"g":"14d","t":43.1,"v":8.45},{"g":"14d","t":44.1,"v":8.45},
{"g":"14e","t":37.9,"v":8.95},{"g":"14e","t":41.1,"v":9.00},{"g":"14e","t":42.9,"v":9.28},{"g":"14e","t":44.3,"v":9.43},
{"g":"14f","t":37.9,"v":8.97},{"g":"14f","t":41.4,"v":9.06},{"g":"14f","t":42.9,"v":9.28},{"g":"14f","t":44.2,"v":9.43},
{"g":"14g","t":37.9,"v":8.99},{"g":"14g","t":41.7,"v":9.14},{"g":"14g","t":43.0,"v":9.29},{"g":"14g","t":44.1,"v":9.43},
{"g":"15a","t":33.2,"v":7.73},{"g":"15a","t":36.1,"v":7.63},{"g":"15a","t":37.4,"v":7.33},{"g":"15a","t":38.4,"v":7.33},
{"g":"15b","t":33.2,"v":7.75},{"g":"15b","t":36.4,"v":7.70},{"g":"15b","t":37.8,"v":7.33},{"g":"15b","t":38.8,"v":7.33},
{"g":"15c","t":33.2,"v":7.77},{"g":"15c","t":36.7,"v":7.77},{"g":"15c","t":38.2,"v":7.33},{"g":"15c","t":39.2,"v":7.33},
{"g":"15d","t":33.2,"v":7.79},{"g":"15d","t":37.0,"v":7.84},{"g":"15d","t":38.6,"v":7.33},{"g":"15d","t":39.6,"v":7.33},
{"g":"15e","t":33.4,"v":7.83},{"g":"15e","t":36.6,"v":7.88},{"g":"15e","t":38.4,"v":8.16},{"g":"15e","t":39.8,"v":8.31},
{"g":"15f","t":33.4,"v":7.85},{"g":"15f","t":36.9,"v":7.94},{"g":"15f","t":38.4,"v":8.16},{"g":"15f","t":39.7,"v":8.31},
{"g":"15g","t":33.4,"v":7.87},{"g":"15g","t":37.2,"v":8.02},{"g":"15g","t":38.5,"v":8.17},{"g":"15g","t":39.6,"v":8.31},
{"g":"16a","t":28.6,"v":6.60},{"g":"16a","t":31.5,"v":6.50},{"g":"16a","t":32.8,"v":6.20},{"g":"16a","t":33.8,"v":6.20},
{"g":"16b","t":28.6,"v":6.62},{"g":"16b","t":31.8,"v":6.57},{"g":"16b","t":33.2,"v":6.20},{"g":"16b","t":34.2,"v":6.20},
{"g":"16c","t":28.6,"v":6.64},{"g":"16c","t":32.1,"v":6.64},{"g":"16c","t":33.6,"v":6.20},{"g":"16c","t":34.6,"v":6.20},
{"g":"16d","t":28.6,"v":6.66},{"g":"16d","t":32.4,"v":6.71},{"g":"16d","t":34.0,"v":6.20},{"g":"16d","t":35.0,"v":6.20},
{"g":"16e","t":28.8,"v":6.70},{"g":"16e","t":32.0,"v":6.75},{"g":"16e","t":33.8,"v":7.03},{"g":"16e","t":35.2,"v":7.18},
{"g":"16f","t":28.8,"v":6.72},{"g":"16f","t":32.3,"v":6.81},{"g":"16f","t":33.8,"v":7.03},{"g":"16f","t":35.1,"v":7.18},
{"g":"16g","t":28.8,"v":6.74},{"g":"16g","t":32.6,"v":6.89},{"g":"16g","t":33.9,"v":7.04},{"g":"16g","t":35.0,"v":7.18},
{"g":"17a","t":23.9,"v":5.48},{"g":"17a","t":26.8,"v":5.38},{"g":"17a","t":28.1,"v":5.08},{"g":"17a","t":29.1,"v":5.08},
{"g":"17b","t":23.9,"v":5.50},{"g":"17b","t":27.1,"v":5.45},{"g":"17b","t":28.5,"v":5.08},{"g":"17b","t":29.5,"v":5.08},
{"g":"17c","t":23.9,"v":5.52},{"g":"17c","t":27.4,"v":5.52},{"g":"17c","t":28.9,"v":5.08},{"g":"17c","t":29.9,"v":5.08},
{"g":"17d","t":23.9,"v":5.54},{"g":"17d","t":27.7,"v":5.59},{"g":"17d","t":29.3,"v":5.08},{"g":"17d","t":30.3,"v":5.08},
{"g":"17e","t":24.1,"v":5.58},{"g":"17e","t":27.3,"v":5.63},{"g":"17e","t":29.1,"v":5.91},{"g":"17e","t":30.5,"v":6.06},
{"g":"17f","t":24.1,"v":5.60},{"g":"17f","t":27.6,"v":5.69},{"g":"17f","t":29.1,"v":5.91},{"g":"17f","t":30.4,"v":6.06},
{"g":"17g","t":24.1,"v":5.62},{"g":"17g","t":27.9,"v":5.77},{"g":"17g","t":29.2,"v":5.92},{"g":"17g","t":30.3,"v":6.06},
{"g":"18a","t":19.3,"v":4.36},{"g":"18a","t":22.2,"v":4.26},{"g":"18a","t":23.5,"v":3.96},{"g":"18a","t":24.5,"v":3.96},
{"g":"18b","t":19.3,"v":4.38},{"g":"18b","t":22.5,"v":4.33},{"g":"18b","t":23.9,"v":3.96},{"g":"18b","t":24.9,"v":3.96},
{"g":"18c","t":19.3,"v":4.40},{"g":"18c","t":22.8,"v":4.40},{"g":"18c","t":24.3,"v":3.96},{"g":"18c","t":25.3,"v":3.96},
{"g":"18d","t":19.3,"v":4.42},{"g":"18d","t":23.1,"v":4.47},{"g":"18d","t":24.7,"v":3.96},{"g":"18d","t":25.7,"v":3.96},
{"g":"18e","t":19.5,"v":4.46},{"g":"18e","t":22.7,"v":4.51},{"g":"18e","t":24.5,"v":4.79},{"g":"18e","t":25.9,"v":4.94},
{"g":"18f","t":19.5,"v":4.48},{"g":"18f","t":23.0,"v":4.57},{"g":"18f","t":24.5,"v":4.79},{"g":"18f","t":25.8,"v":4.94},
{"g":"18g","t":19.5,"v":4.50},{"g":"18g","t":23.3,"v":4.65},{"g":"18g","t":24.6,"v":4.80},{"g":"18g","t":25.7,"v":4.94},
{"g":"19a","t":14.5,"v":3.24},{"g":"19a","t":17.4,"v":3.14},{"g":"19a","t":18.7,"v":2.84},{"g":"19a","t":19.7,"v":2.84},
{"g":"19b","t":14.5,"v":3.26},{"g":"19b","t":17.7,"v":3.21},{"g":"19b","t":19.1,"v":2.84},{"g":"19b","t":20.1,"v":2.84},
{"g":"19c","t":14.5,"v":3.28},{"g":"19c","t":18.0,"v":3.28},{"g":"19c","t":19.5,"v":2.84},{"g":"19c","t":20.5,"v":2.84},
{"g":"19d","t":14.5,"v":3.30},{"g":"19d","t":18.3,"v":3.35},{"g":"19d","t":19.9,"v":2.84},{"g":"19d","t":20.9,"v":2.84},
{"g":"19e","t":14.7,"v":3.34},{"g":"19e","t":17.9,"v":3.39},{"g":"19e","t":19.7,"v":3.67},{"g":"19e","t":21.1,"v":3.82},
{"g":"19f","t":14.7,"v":3.36},{"g":"19f","t":18.2,"v":3.45},{"g":"19f","t":19.7,"v":3.67},{"g":"19f","t":21.0,"v":3.82},
{"g":"19g","t":14.7,"v":3.38},{"g":"19g","t":18.5,"v":3.53},{"g":"19g","t":19.8,"v":3.68},{"g":"19g","t":20.9,"v":3.82},
{"g":"20a","t":9.6,"v":2.12},{"g":"20a","t":12.5,"v":2.02},{"g":"20a","t":13.8,"v":1.72},{"g":"20a","t":14.8,"v":1.72},
{"g":"20b","t":9.6,"v":2.14},{"g":"20b","t":12.8,"v":2.09},{"g":"20b","t":14.2,"v":1.72},{"g":"20b","t":15.2,"v":1.72},
{"g":"20c","t":9.6,"v":2.16},{"g":"20c","t":13.1,"v":2.16},{"g":"20c","t":14.6,"v":1.72},{"g":"20c","t":15.6,"v":1.72},
{"g":"20d","t":9.6,"v":2.18},{"g":"20d","t":13.4,"v":2.23},{"g":"20d","t":15.0,"v":1.72},{"g":"20d","t":16.0,"v":1.72},
{"g":"20e","t":9.8,"v":2.22},{"g":"20e","t":13.0,"v":2.27},{"g":"20e","t":14.8,"v":2.55},{"g":"20e","t":16.2,"v":2.70},
{"g":"20f","t":9.8,"v":2.24},{"g":"20f","t":13.3,"v":2.33},{"g":"20f","t":14.8,"v":2.55},{"g":"20f","t":16.1,"v":2.70},
{"g":"20g","t":9.8,"v":2.26},{"g":"20g","t":13.6,"v":2.41},{"g":"20g","t":14.9,"v":2.56},{"g":"20g","t":16.0,"v":2.70},
{"g":"21a","t":4.2,"v":1.00},{"g":"21a","t":7.1,"v":0.90},{"g":"21a","t":8.4,"v":0.60},{"g":"21a","t":9.4,"v":0.60},
{"g":"21b","t":4.2,"v":1.02},{"g":"21b","t":7.4,"v":0.97},{"g":"21b","t":8.8,"v":0.60},{"g":"21b","t":9.8,"v":0.60},
{"g":"21c","t":4.2,"v":1.04},{"g":"21c","t":7.7,"v":1.04},{"g":"21c","t":9.2,"v":0.60},{"g":"21c","t":10.2,"v":0.60},
{"g":"21d","t":4.2,"v":1.06},{"g":"21d","t":8.0,"v":1.11},{"g":"21d","t":9.6,"v":0.60},{"g":"21d","t":10.6,"v":0.60},
{"g":"21e","t":4.4,"v":1.10},{"g":"21e","t":7.6,"v":1.15},{"g":"21e","t":9.4,"v":1.43},{"g":"21e","t":10.8,"v":1.58},
{"g":"21f","t":4.4,"v":1.12},{"g":"21f","t":7.9,"v":1.21},{"g":"21f","t":9.4,"v":1.43},{"g":"21f","t":10.7,"v":1.58},
{"g":"21g","t":4.4,"v":1.14},{"g":"21g","t":8.2,"v":1.29},{"g":"21g","t":9.5,"v":1.44},{"g":"21g","t":10.6,"v":1.58}
],
"cl": [
{"L":24.14,"t0":0,"t1":69},{"L":23.02,"t0":0,"t1":69},{"L":21.90,"t0":0,"t1":69},{"L":20.78,"t0":0,"t1":69},{"L":19.66,"t0":0,"t1":69},{"L":18.54,"t0":0,"t1":69},{"L":17.41,"t0":0,"t1":69},{"L":16.29,"t0":0,"t1":69},{"L":15.17,"t0":0,"t1":69},{"L":14.05,"t0":0,"t1":69},{"L":12.93,"t0":0,"t1":69},
{"L":11.81,"t0":0,"t1":69},{"L":10.69,"t0":0,"t1":69},{"L":9.57,"t0":0,"t1":69},{"L":8.45,"t0":0,"t1":69},{"L":7.33,"t0":0,"t1":69},{"L":6.20,"t0":0,"t1":69},{"L":5.08,"t0":0,"t1":69},{"L":3.96,"t0":0,"t1":69},{"L":2.84,"t0":0,"t1":69},{"L":1.72,"t0":0,"t1":69},{"L":0.60,"t0":0,"t1":69}
]
},
"layer": [
{
  "data": {"name": "tongue"},
  "mark": {"type": "area", "color": "#0000ff", "interpolate": "monotone", "opacity": 1},
  "encoding": {
    "x": {"field": "t", "type": "quantitative", "scale": {"domain": [0, 70], "nice": false},
      "axis": {"orient": "bottom", "values": [0,10,20,30,40,50,60,70], "title": "Time", "labelPadding": 57, "titlePadding": 20}},
    "y": {"field": "y", "type": "quantitative", "scale": {"domain": [0, 25], "nice": false},
      "axis": {"orient": "left", "values": [0,5,10,15,20,25], "title": "Opinions", "labelPadding": 41, "titlePadding": 16}},
    "y2": {"field": "y2"},
    "detail": {"field": "g"}
  }
},
{
  "data": {"name": "fan"},
  "mark": {"type": "line", "color": "#0000ff", "strokeWidth": 1.6, "interpolate": "monotone"},
  "encoding": {
    "x": {"field": "t", "type": "quantitative", "scale": {"domain": [0, 70], "nice": false}, "axis": null},
    "y": {"field": "v", "type": "quantitative", "scale": {"domain": [0, 25], "nice": false}, "axis": null},
    "detail": {"field": "g"}
  }
},
{
  "data": {"name": "cl"},
  "mark": {"type": "rule", "color": "#0000ff", "strokeWidth": 2},
  "encoding": {
    "x": {"field": "t0", "type": "quantitative", "scale": {"domain": [0, 70], "nice": false},
      "axis": {"orient": "top", "values": [0,10,20,30,40,50,60,70], "labels": false, "domain": false, "title": null}},
    "x2": {"field": "t1"},
    "y": {"field": "L", "type": "quantitative", "scale": {"domain": [0, 25], "nice": false},
      "axis": {"orient": "right", "values": [0,5,10,15,20,25], "labels": false, "domain": false, "title": null}}
  }
}
],
"resolve": {"axis": {"x": "independent", "y": "independent"}}
}
